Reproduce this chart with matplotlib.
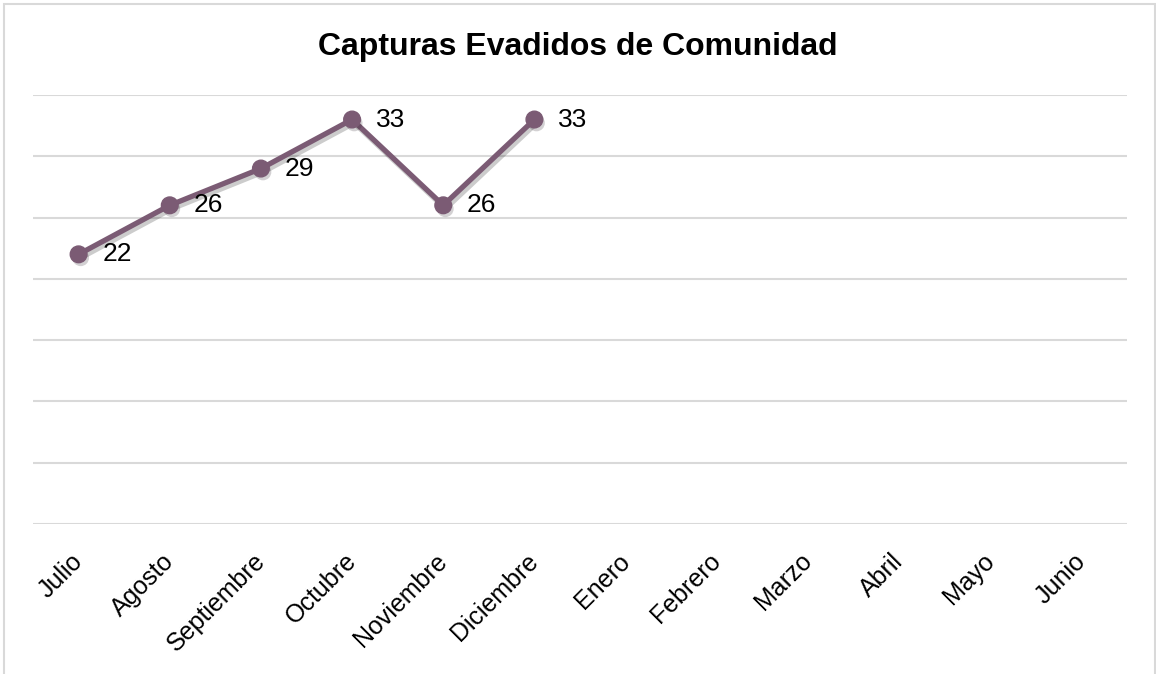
import matplotlib.pyplot as plt
import matplotlib.patheffects as pe
import matplotlib.transforms as mtransforms
from matplotlib.patches import Rectangle

plt.rcParams['font.family'] = ['Liberation Sans', 'DejaVu Sans']

months = ['Julio', 'Agosto', 'Septiembre', 'Octubre', 'Noviembre', 'Diciembre',
          'Enero', 'Febrero', 'Marzo', 'Abril', 'Mayo', 'Junio']
captures = [22, 26, 29, 33, 26, 33]
title = 'Capturas Evadidos de Comunidad'

line_color = '#7b5b74'
grid_color = '#d9d9d9'

fig = plt.figure(figsize=(11.56, 6.74), dpi=100)
ax = fig.add_axes([33 / 1156, 1 - 524 / 674, 1094 / 1156, (524 - 95) / 674])

# chart border
fig.patches.append(Rectangle((4 / 1156, -0.05), 1151 / 1156, 1.05 - 4 / 674,
                             transform=fig.transFigure, fill=False,
                             edgecolor='#d9d9d9', linewidth=1.5))

x = list(range(len(captures)))
shadow = [pe.SimpleLineShadow(offset=(1.5, -2.5), alpha=0.2, shadow_color='black'),
          pe.Normal()]
ax.plot(x, captures, color=line_color, linewidth=3.8, zorder=3,
        solid_joinstyle='miter', path_effects=shadow)
ax.plot(x, captures, linestyle='none', marker='o', markersize=12,
        color=line_color, zorder=4,
        path_effects=[pe.SimplePatchShadow(offset=(1.5, -2.5), alpha=0.2),
                      pe.Normal()])

for xi, v in zip(x, captures):
    ax.annotate(str(v), (xi, v), xytext=(17, 0), textcoords='offset points',
                ha='left', va='center', fontsize=19, color='black')

ax.set_xlim(-0.5, len(months) - 0.5)
ax.set_ylim(0, 35)
ax.set_yticks(range(0, 36, 5))
ax.set_yticklabels([])
ax.set_xticks(range(len(months)))
ax.set_xticklabels(months, rotation=45, ha='right', va='top',
                   rotation_mode='anchor', fontsize=18)
ax.tick_params(axis='both', length=0)
ax.tick_params(axis='x', pad=18)
# nudge the rotated labels a little to the left
shift = mtransforms.ScaledTranslation(-8 / 100, 0, fig.dpi_scale_trans)
for lbl in ax.get_xticklabels():
    lbl.set_transform(lbl.get_transform() + shift)
ax.grid(axis='y', color=grid_color, linewidth=1.5)
ax.set_axisbelow(True)
for s in ax.spines.values():
    s.set_visible(False)

fig.text(0.5, 1 - 47 / 674, title, ha='center', va='center',
         fontsize=23, fontweight='bold')

fig.savefig('out.png', dpi=100)
